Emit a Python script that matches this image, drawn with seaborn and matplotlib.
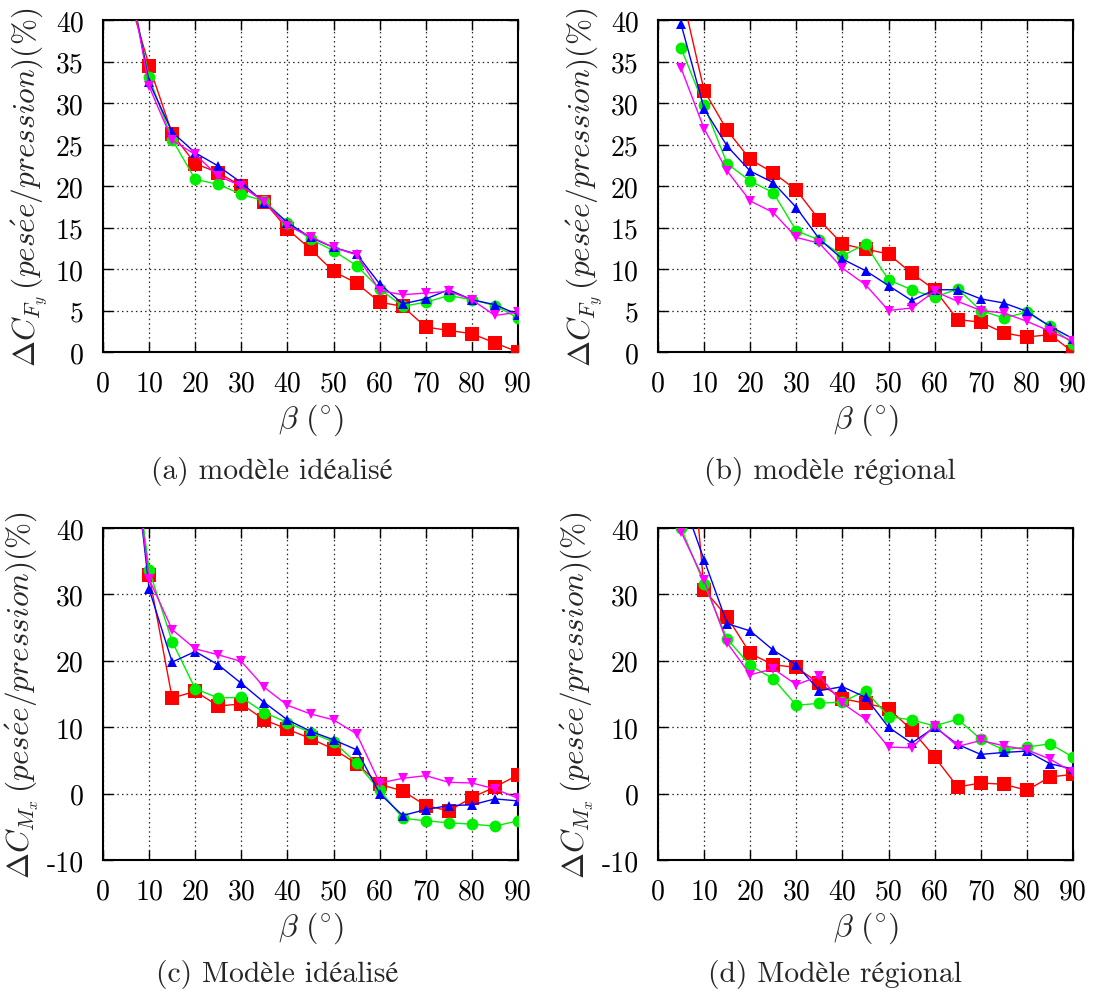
import numpy as np
import pandas as pd
import matplotlib
matplotlib.use("Agg")
import matplotlib.pyplot as plt
import seaborn as sns

# ---------------- data ----------------
beta = [5, 10, 15, 20, 25, 30, 35, 40, 45, 50, 55, 60, 65, 70, 75, 80, 85, 90]

# (a) dCFy, modele idealise
a_red = [44.0, 34.5, 26.3, 22.7, 21.6, 20.0, 18.1, 14.8, 12.4, 9.7, 8.3, 6.0, 5.5, 3.0, 2.6, 2.2, 1.1, 0.0]
a_green = [46.0, 33.1, 25.6, 20.8, 20.2, 19.0, 18.2, 15.6, 13.6, 12.2, 10.4, 7.6, 5.5, 6.0, 6.8, 6.3, 5.6, 4.1]
a_blue = [47.0, 32.5, 26.5, 24.0, 22.4, 20.4, 18.0, 15.6, 13.8, 12.6, 11.8, 8.2, 5.8, 6.4, 7.5, 6.3, 5.7, 4.5]
a_magenta = [47.0, 32.0, 25.5, 23.8, 21.2, 20.0, 18.1, 15.2, 13.9, 12.6, 11.7, 7.4, 6.9, 7.1, 7.3, 6.3, 4.4, 4.8]

# (b) dCFy, modele regional
b_red = [43.6, 31.5, 26.7, 23.2, 21.6, 19.5, 15.9, 13.0, 12.4, 11.8, 9.5, 7.5, 3.9, 3.6, 2.3, 1.8, 2.1, 0.0]
b_green = [36.6, 29.7, 22.7, 20.6, 19.2, 14.6, 13.5, 11.6, 13.0, 8.7, 7.5, 6.6, 7.6, 5.0, 4.1, 4.8, 3.1, 1.0]
b_blue = [39.5, 29.3, 24.8, 21.8, 20.4, 17.4, 13.6, 11.2, 9.8, 8.0, 6.2, 7.5, 7.5, 6.4, 5.9, 4.9, 3.1, 1.6]
b_magenta = [34.2, 26.9, 21.8, 18.2, 16.8, 13.8, 13.1, 10.1, 8.1, 5.0, 5.3, 7.3, 6.1, 5.0, 4.7, 3.7, 2.5, 1.3]

# (c) dCMx, modele idealise
c_red = [60.0, 32.9, 14.4, 15.4, 13.2, 13.5, 11.1, 9.7, 8.3, 6.7, 4.5, 1.4, 0.4, -1.8, -2.6, -0.6, 1.0, 2.8]
c_green = [60.0, 33.7, 22.9, 15.8, 14.4, 14.5, 12.2, 10.7, 9.2, 7.8, 4.6, 0.5, -3.7, -4.1, -4.4, -4.6, -4.9, -4.1]
c_blue = [62.0, 30.8, 19.8, 21.4, 19.4, 16.6, 13.7, 11.1, 9.4, 8.1, 6.6, 0.0, -3.3, -2.4, -1.8, -1.7, -0.8, -1.1]
c_magenta = [60.0, 32.3, 24.7, 21.8, 20.9, 19.9, 16.0, 13.3, 12.0, 11.1, 9.0, 1.6, 2.3, 2.7, 1.7, 1.6, 0.7, -0.7]

# (d) dCMx, modele regional
d_red = [70.0, 30.7, 26.6, 21.1, 19.4, 19.0, 16.6, 14.3, 13.6, 12.8, 9.6, 5.5, 1.0, 1.6, 1.4, 0.5, 2.5, 2.9]
d_green = [40.0, 31.6, 23.3, 19.3, 17.3, 13.3, 13.6, 13.8, 15.5, 11.6, 11.1, 10.2, 11.2, 8.2, 6.6, 7.0, 7.5, 5.5]
d_blue = [45.0, 35.2, 25.6, 24.5, 21.6, 19.4, 15.5, 16.1, 14.5, 10.0, 7.6, 10.0, 7.4, 5.9, 6.2, 6.4, 4.5, 3.7]
d_magenta = [39.4, 32.1, 22.7, 17.9, 18.8, 16.4, 17.7, 13.6, 11.2, 7.0, 6.9, 10.2, 7.1, 8.0, 7.2, 6.6, 5.2, 3.2]

x_ticks = [0, 10, 20, 30, 40, 50, 60, 70, 80, 90]
x_ticklabels = ["0", "10", "20", "30", "40", "50", "60", "70", "80", "90"]
yF_ticks = [0, 5, 10, 15, 20, 25, 30, 35, 40]
yF_ticklabels = ["0", "5", "10", "15", "20", "25", "30", "35", "40"]
yM_ticks = [-10, 0, 10, 20, 30, 40]
yM_ticklabels = ["-10", "0", "10", "20", "30", "40"]

captions = ["(a) modèle idéalisé", "(b) modèle régional",
            "(c) Modèle idéalisé", "(d) Modèle régional"]
ylabel_F = r"$\Delta C_{F_y}\,(pes\acute{e}e/pression)(\%)$"
ylabel_M = r"$\Delta C_{M_x}\,(pes\acute{e}e/pression)(\%)$"
xlabel = r"$\beta\ (^{\circ})$"

series_names = ["red", "green", "blue", "magenta"]
colors = {"red": "#ff0000", "green": "#00ee00", "blue": "#0000ff", "magenta": "#ff00ff"}
markers = {"red": "s", "green": "o", "blue": "^", "magenta": "v"}
msizes = {"red": 9.5, "green": 8.5, "blue": 7.5, "magenta": 7.5}

# ---------------- style ----------------
sns.set_theme(style="white")
plt.rcParams["font.family"] = ["cmr10", "STIXGeneral"]
plt.rcParams["mathtext.fontset"] = "cm"
plt.rcParams["axes.formatter.use_mathtext"] = True
plt.rcParams["axes.unicode_minus"] = False

fig = plt.figure(figsize=(10.94, 9.95), dpi=100)
W, H = 1094.0, 995.0

def axes_at(l, t, r, b):
    return fig.add_axes([l / W, 1 - b / H, (r - l) / W, (b - t) / H])

panels = [
    (axes_at(103, 21, 518, 353), [a_red, a_green, a_blue, a_magenta], yF_ticks, yF_ticklabels, (0, 40), ylabel_F),
    (axes_at(658, 21, 1073, 353), [b_red, b_green, b_blue, b_magenta], yF_ticks, yF_ticklabels, (0, 40), ylabel_F),
    (axes_at(103, 529, 518, 861), [c_red, c_green, c_blue, c_magenta], yM_ticks, yM_ticklabels, (-10, 40), ylabel_M),
    (axes_at(658, 529, 1073, 861), [d_red, d_green, d_blue, d_magenta], yM_ticks, yM_ticklabels, (-10, 40), ylabel_M),
]

FS = 20
for ax, ys, yt, ytl, ylim, ylab in panels:
    for name, yv in zip(series_names, ys):
        df = pd.DataFrame({"beta": beta, "val": yv})
        sns.lineplot(data=df, x="beta", y="val", ax=ax, color=colors[name],
                     marker=markers[name], markersize=msizes[name],
                     markeredgewidth=0, linewidth=1.0, zorder=3)
    ax.set_xlim(0, 90)
    ax.set_ylim(*ylim)
    ax.set_xticks(x_ticks)
    ax.set_xticklabels(x_ticklabels, fontsize=FS)
    ax.set_yticks(yt)
    ax.set_yticklabels(ytl, fontsize=FS)
    ax.grid(True, color="black", linestyle=(0, (1.2, 2.5)), linewidth=0.9, alpha=0.85)
    ax.tick_params(axis="y", direction="in", length=7, width=1.0,
                   left=True, right=True, colors="black", pad=14)
    ax.tick_params(axis="x", direction="in", length=7, width=1.0,
                   top=True, bottom=True, colors="black", pad=13)
    for sp in ax.spines.values():
        sp.set_color("black")
        sp.set_linewidth(1.5)
    ax.set_xlabel(xlabel, fontsize=23, labelpad=4)
    ax.set_ylabel(ylab, fontsize=22.5, labelpad=4)
    ax.set_facecolor("white")

CFS = 21.3
fig.text(272 / W, 1 - 472 / H, captions[0], fontsize=CFS, ha="center", va="center")
fig.text(830 / W, 1 - 472 / H, captions[1], fontsize=CFS, ha="center", va="center")
fig.text(277 / W, 1 - 975 / H, captions[2], fontsize=CFS, ha="center", va="center")
fig.text(835 / W, 1 - 975 / H, captions[3], fontsize=CFS, ha="center", va="center")

fig.savefig("out.png", dpi=100, facecolor="white")
